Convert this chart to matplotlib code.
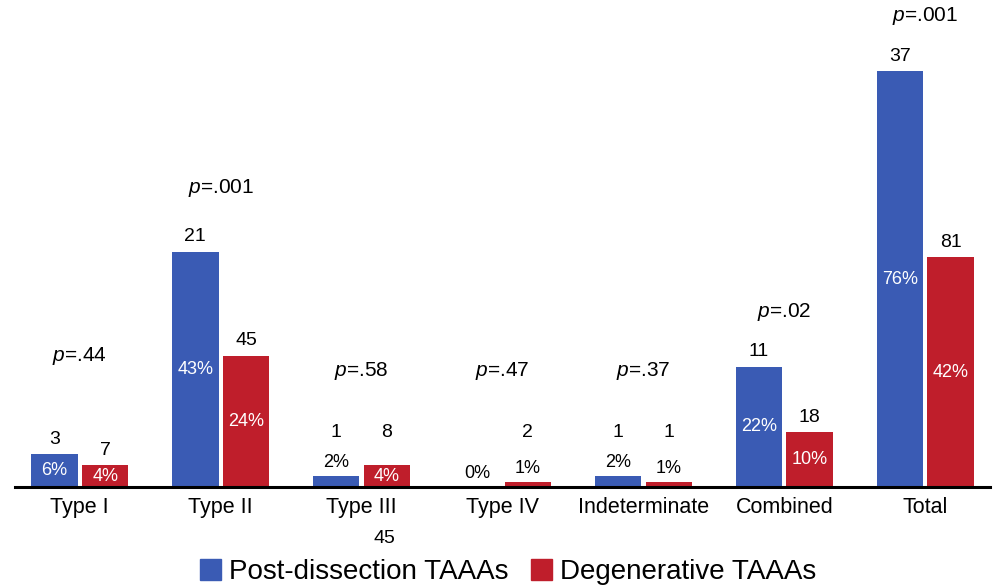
import matplotlib
matplotlib.use("Agg")
import matplotlib.pyplot as plt
from matplotlib.patches import Patch
import numpy as np

# ---- data ----
categories = ["Type I", "Type II", "Type III", "Type IV", "Indeterminate", "Combined", "Total"]
post_pct = [6, 43, 2, 0, 2, 22, 76]
degen_pct = [4, 24, 4, 1, 1, 10, 42]
post_n = [3, 21, 1, 0, 1, 11, 37]
degen_n = [7, 45, 8, 2, 1, 18, 81]
p_values = [".44", ".001", ".58", ".47", ".37", ".02", ".001"]
series_names = ["Post-dissection TAAAs", "Degenerative TAAAs"]

# ---- layout ----
p_label_y = [24, 54.7, 21.2, 21.2, 21.2, 32, 86]
blue = "#3a5bb4"
red = "#bf1e2b"

plt.rcParams['font.family'] = ['Liberation Sans', 'DejaVu Sans']
plt.rcParams['mathtext.fontset'] = 'custom'
plt.rcParams['mathtext.it'] = 'Liberation Sans:italic'
plt.rcParams['mathtext.rm'] = 'Liberation Sans'

fig = plt.figure(figsize=(9.96, 5.88), dpi=100)
ax = fig.add_axes([15/996, 1 - 487/588, 975/996, 487/588])

x = np.arange(len(categories))
w = 0.33
off = 0.18
ax.bar(x - off, post_pct, w, color=blue)
ax.bar(x + off, degen_pct, w, color=red)

ax.set_xlim(-0.46, len(categories) - 1 + 0.46)
ax.set_ylim(0, 89)

for s in ["top", "right", "left"]:
    ax.spines[s].set_visible(False)
ax.spines["bottom"].set_linewidth(2.2)
ax.spines["bottom"].set_color("black")
ax.set_yticks([])
ax.set_xticks(x)
ax.set_xticklabels(categories, fontsize=15.5)
ax.tick_params(axis="x", length=0, pad=7)

for i in range(len(categories)):
    small_group = min(post_pct[i], degen_pct[i]) < 3 and max(post_pct[i], degen_pct[i]) < 5
    for xpos, pct, n in ((x[i] - off, post_pct[i], post_n[i]), (x[i] + off, degen_pct[i], degen_n[i])):
        if pct >= 3:
            ax.text(xpos, pct / 2, f"{pct}%", color="white", ha="center", va="center", fontsize=13)
        else:
            ax.text(xpos, pct + 0.9, f"{pct}%", color="black", ha="center", va="bottom", fontsize=13)
        if n > 0:
            cy = 9.9 if small_group else pct + 2.75
            ax.text(xpos, cy, f"{n}", color="black", ha="center", va="center", fontsize=14)
    ax.text(x[i], p_label_y[i], f"$\\it{{p}}$=" + p_values[i], ha="center", va="center", fontsize=15)

# stray label under Type III
ax.annotate("45", xy=(x[2] + 0.16, 0), xytext=(0, -37), textcoords="offset points",
            ha="center", va="center", fontsize=14)

handles = [Patch(color=blue), Patch(color=red)]
fig.legend(handles, series_names, loc="lower center", bbox_to_anchor=(0.51, -0.014), ncol=2,
           frameon=False, fontsize=20, handlelength=0.75, handleheight=0.75,
           handletextpad=0.3, columnspacing=0.8, borderaxespad=0)

fig.savefig("out.png", dpi=100)
